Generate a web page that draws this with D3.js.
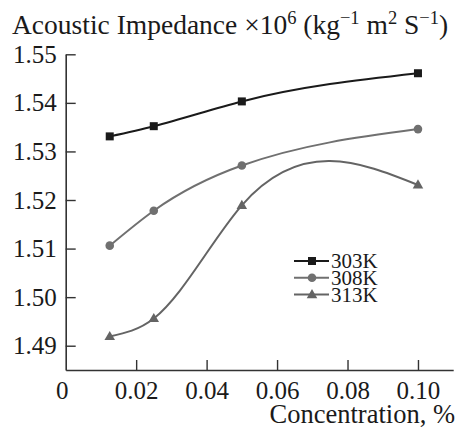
<!DOCTYPE html>
<html>
<head>
<meta charset="utf-8">
<script src="https://cdn.jsdelivr.net/npm/d3@7"></script>
<style>
  body { margin: 0; background: #fff; }
  svg { display: block; }
  svg text { font-family: "Liberation Serif", "Times New Roman", Times, "DejaVu Serif", serif; }
</style>
</head>
<body>
<div id="chart"></div>
<script>
// data
var concentration = [0.0125, 0.025, 0.05, 0.10];
var z303 = [1.5331, 1.5352, 1.5403, 1.5461];
var z308 = [1.5106, 1.5178, 1.5271, 1.5346];
var z313 = [1.4919, 1.4956, 1.5189, 1.5231];
var seriesNames = ["303K", "308K", "313K"];
var yTicks = [1.49, 1.50, 1.51, 1.52, 1.53, 1.54, 1.55];
var xTicks = [0, 0.02, 0.04, 0.06, 0.08, 0.10];

var W = 459, H = 429;

var svg = d3.select("#chart").append("svg")
    .attr("width", W)
    .attr("height", H);

svg.append("rect").attr("width", W).attr("height", H).attr("fill", "#fff");

// scales
var x = d3.scaleLinear().domain([0, 0.11]).range([65.7, 453.2]);
var y = d3.scaleLinear().domain([1.485, 1.55]).range([370, 54.3]);

// natural cubic spline with y as a function of x, drawn as bezier segments
function CurveNaturalX(context) { this._context = context; }
CurveNaturalX.prototype = {
    areaStart: function() { this._line = 0; },
    areaEnd: function() { this._line = NaN; },
    lineStart: function() { this._x = []; this._y = []; },
    point: function(px, py) { this._x.push(+px); this._y.push(+py); },
    lineEnd: function() {
        var X = this._x, Y = this._y, n = X.length, c = this._context;
        if (!n) return;
        c.moveTo(X[0], Y[0]);
        if (n === 2) { c.lineTo(X[1], Y[1]); return; }
        var h = [], i;
        for (i = 0; i < n - 1; i++) h.push(X[i + 1] - X[i]);
        // tridiagonal system for second derivatives, M[0] = M[n-1] = 0
        var M = new Array(n).fill(0);
        var a = [], b = [], cc = [], r = [];
        for (i = 1; i < n - 1; i++) {
            a.push(h[i - 1]);
            b.push(2 * (h[i - 1] + h[i]));
            cc.push(h[i]);
            r.push(6 * ((Y[i + 1] - Y[i]) / h[i] - (Y[i] - Y[i - 1]) / h[i - 1]));
        }
        var m = b.length;
        for (i = 1; i < m; i++) {
            var w = a[i] / b[i - 1];
            b[i] -= w * cc[i - 1];
            r[i] -= w * r[i - 1];
        }
        var sol = new Array(m);
        sol[m - 1] = r[m - 1] / b[m - 1];
        for (i = m - 2; i >= 0; i--) sol[i] = (r[i] - cc[i] * sol[i + 1]) / b[i];
        for (i = 0; i < m; i++) M[i + 1] = sol[i];
        // first derivatives at knots
        var d = [];
        for (i = 0; i < n - 1; i++) d.push((Y[i + 1] - Y[i]) / h[i] - h[i] * (2 * M[i] + M[i + 1]) / 6);
        d.push((Y[n - 1] - Y[n - 2]) / h[n - 2] + h[n - 2] * (M[n - 2] + 2 * M[n - 1]) / 6);
        for (i = 0; i < n - 1; i++) {
            c.bezierCurveTo(
                X[i] + h[i] / 3, Y[i] + h[i] * d[i] / 3,
                X[i + 1] - h[i] / 3, Y[i + 1] - h[i] * d[i + 1] / 3,
                X[i + 1], Y[i + 1]);
        }
    }
};
function curveNaturalX(context) { return new CurveNaturalX(context); }

// y axis, ticks pointing inward
var yAxis = svg.append("g")
    .attr("transform", "translate(" + x(0) + ",0)")
    .call(d3.axisLeft(y).tickValues(yTicks).tickSizeInner(-10).tickSizeOuter(0)
        .tickPadding(9).tickFormat(d3.format(".2f")));

// x axis
var xAxis = svg.append("g")
    .attr("transform", "translate(0," + y(1.485) + ")")
    .call(d3.axisBottom(x).tickValues(xTicks).tickSizeInner(-10).tickSizeOuter(0)
        .tickPadding(11).tickFormat(function(d) { return d === 0 ? "0" : d3.format(".2f")(d); }));

[yAxis, xAxis].forEach(function(g) {
    g.attr("font-family", null).attr("font-size", null);
    g.select(".domain").attr("stroke", "#333").attr("stroke-width", 1.6);
    g.selectAll(".tick line").attr("stroke", "#333").attr("stroke-width", 1.4);
    g.selectAll(".tick text")
        .attr("fill", "#1a1a1a")
        .style("font-size", "25px");
});
xAxis.selectAll(".tick").filter(function(d) { return d === 0; }).select("line").remove();
xAxis.selectAll(".tick").filter(function(d) { return d === 0; }).select("text").attr("x", -4);

// title with superscripts
var title = svg.append("text")
    .attr("x", 12)
    .attr("y", 34)
    .attr("fill", "#1a1a1a")
    .style("font-size", "27.5px");
var parts = [
    ["Acoustic Impedance \u00d710", 0], ["6", 1], [" (kg", 0], ["\u22121", 1],
    [" m", 0], ["2", 1], [" S", 0], ["\u22121", 1], [")", 0]
];
var cur = 0;
parts.forEach(function(p) {
    var shift = p[1] ? -10 : 0;
    title.append("tspan")
        .attr("dy", shift - cur)
        .style("font-size", p[1] ? "18.5px" : "27.5px")
        .text(p[0]);
    cur = shift;
});

// x label
svg.append("text")
    .attr("x", 455)
    .attr("y", 423)
    .attr("text-anchor", "end")
    .attr("fill", "#1a1a1a")
    .style("font-size", "26.5px")
    .text("Concentration, %");

// series
var colors = ["#1a1a1a", "#707070", "#646464"];
var allSeries = [z303, z308, z313];

var line = d3.line()
    .x(function(d) { return x(d[0]); })
    .y(function(d) { return y(d[1]); })
    .curve(curveNaturalX);

function drawMarker(g, i, cx, cy) {
    if (i === 0) {
        g.append("rect").attr("x", cx - 4).attr("y", cy - 4).attr("width", 8).attr("height", 8)
            .attr("fill", colors[i]);
    } else if (i === 1) {
        g.append("circle").attr("cx", cx).attr("cy", cy).attr("r", 4.3).attr("fill", colors[i]);
    } else {
        g.append("path")
            .attr("d", d3.symbol().type(d3.symbolTriangle).size(48)())
            .attr("transform", "translate(" + cx + "," + (cy + 0.5) + ")")
            .attr("fill", colors[i]);
    }
}

allSeries.forEach(function(vals, i) {
    var pts = concentration.map(function(c, k) { return [c, vals[k]]; });
    svg.append("path")
        .datum(pts)
        .attr("d", line)
        .attr("fill", "none")
        .attr("stroke", colors[i])
        .attr("stroke-width", 2);
    var g = svg.append("g");
    pts.forEach(function(p) { drawMarker(g, i, x(p[0]), y(p[1])); });
});

// legend
var legendY = [261, 277.8, 294.6];
seriesNames.forEach(function(name, i) {
    var g = svg.append("g");
    g.append("line")
        .attr("x1", 294).attr("x2", 329)
        .attr("y1", legendY[i]).attr("y2", legendY[i])
        .attr("stroke", colors[i]).attr("stroke-width", 2);
    drawMarker(g, i, 312, legendY[i]);
    g.append("text")
        .attr("x", 331)
        .attr("y", legendY[i])
        .attr("dy", "0.34em")
        .attr("fill", "#1a1a1a")
        .style("font-size", "21px")
        .text(name);
});
</script>
</body>
</html>
